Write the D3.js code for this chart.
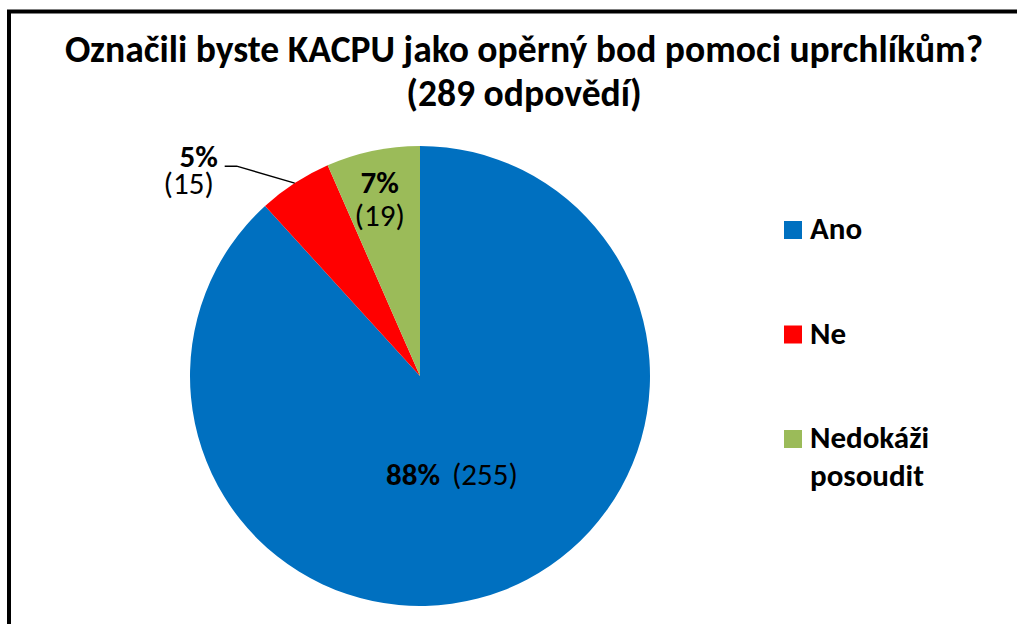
<!DOCTYPE html>
<html>
<head>
<meta charset="utf-8">
<script src="https://cdn.jsdelivr.net/npm/d3@7"></script>
<style>
  body { margin: 0; background: #fff; }
  svg { display: block; font-family: Calibri, Carlito, "Open Sans", sans-serif; }
</style>
</head>
<body>
<svg width="1017" height="624"></svg>
<script>
var categories = ["Ano", "Ne", "Nedokáži posoudit"];
var counts = [255, 15, 19];
var percents = ["88%", "5%", "7%"];
var colors = ["#0070C0", "#FF0000", "#9BBB59"];
var titleLines = ["Označili byste KACPU jako opěrný bod pomoci uprchlíkům?", "(289 odpovědí)"];

var svg = d3.select("svg"),
    width = +svg.attr("width"),
    height = +svg.attr("height");

svg.append("rect").attr("width", width).attr("height", height).attr("fill", "#fff");

// frame (cut off on the right and bottom)
svg.append("path")
    .attr("d", "M9," + (height + 5) + "V11.5H" + (width + 5))
    .attr("fill", "none").attr("stroke", "#000").attr("stroke-width", 4);

// title
svg.append("g").selectAll("text")
    .data(titleLines)
    .enter().append("text")
    .attr("x", 524)
    .attr("y", function(d, i) { return 62 + i * 44; })
    .attr("text-anchor", "middle")
    .attr("font-size", 37.6)
    .attr("font-weight", "bold")
    .text(function(d) { return d; });

var data = categories.map(function(c, i) {
    return { name: c, count: counts[i], pct: percents[i], color: colors[i] };
});

var cx = 420, cy = 376, radius = 230;
var g = svg.append("g").attr("transform", "translate(" + cx + "," + cy + ")");

var pie = d3.pie().sort(null).value(function(d) { return d.count; });
var arcs = pie(data);
var path = d3.arc().innerRadius(0).outerRadius(radius);

g.selectAll(".arc")
    .data(arcs)
    .enter().append("path")
    .attr("class", "arc")
    .attr("d", path)
    .attr("fill", function(d) { return d.data.color; });

function at(r) { return d3.arc().innerRadius(r).outerRadius(r); }

// Ano label, inside
var ano = at(105).centroid(arcs[0]);
var t0 = g.append("text")
    .attr("x", ano[0] - 6).attr("y", ano[1] + 11)
    .attr("text-anchor", "middle").attr("font-size", 31);
t0.append("tspan").attr("font-weight", "bold").text(arcs[0].data.pct);
t0.append("tspan").attr("dx", 12).text("(" + arcs[0].data.count + ")");

// Nedokáži label, inside
var ned = at(182).centroid(arcs[2]);
g.append("text")
    .attr("x", ned[0] - 3).attr("y", ned[1] - 5)
    .attr("text-anchor", "middle").attr("font-size", 31).attr("font-weight", "bold")
    .text(arcs[2].data.pct);
g.append("text")
    .attr("x", ned[0] - 3).attr("y", ned[1] + 28)
    .attr("text-anchor", "middle").attr("font-size", 31)
    .text("(" + arcs[2].data.count + ")");

// Ne label, outside with leader line
var edge = at(radius).centroid(arcs[1]);
var elbow = [edge[0] - 58, edge[1] - 17];
g.append("polyline")
    .attr("points", [edge, elbow, [elbow[0] - 12, elbow[1]]].map(function(p) { return p.join(","); }).join(" "))
    .attr("fill", "none").attr("stroke", "#000").attr("stroke-width", 1.5);
g.append("text")
    .attr("x", elbow[0] - 38).attr("y", elbow[1] + 1)
    .attr("text-anchor", "middle").attr("font-size", 31).attr("font-weight", "bold")
    .text(arcs[1].data.pct);
g.append("text")
    .attr("x", elbow[0] - 48).attr("y", elbow[1] + 28)
    .attr("text-anchor", "middle").attr("font-size", 31)
    .text("(" + arcs[1].data.count + ")");

// legend
var legend = svg.append("g").attr("transform", "translate(784,221)");
var item = legend.selectAll("g")
    .data(data)
    .enter().append("g")
    .attr("transform", function(d, i) { return "translate(0," + (i * 104.5) + ")"; });
item.append("rect").attr("width", 18).attr("height", 18)
    .attr("fill", function(d) { return d.color; });
item.append("text")
    .attr("x", 26).attr("y", 18)
    .attr("font-size", 31).attr("font-weight", "bold")
    .selectAll("tspan")
    .data(function(d) { return d.name === "Nedokáži posoudit" ? ["Nedokáži", "posoudit"] : [d.name]; })
    .enter().append("tspan")
    .attr("x", 26)
    .attr("dy", function(d, i) { return i ? 38 : 0; })
    .text(function(d) { return d; });
</script>
</body>
</html>
